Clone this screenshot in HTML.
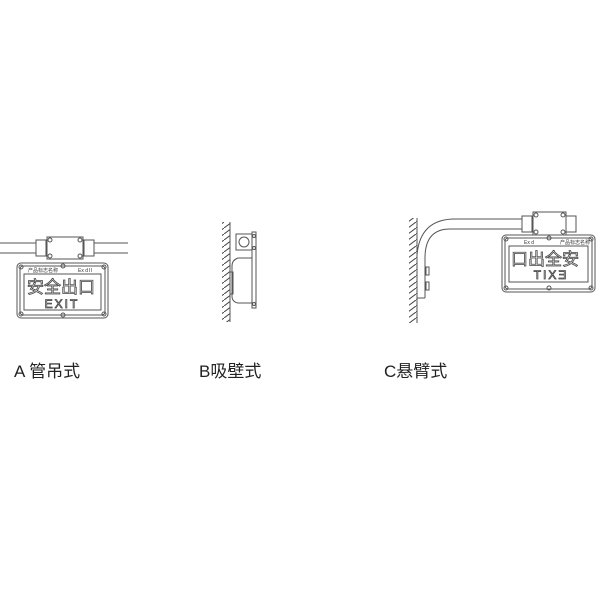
<!DOCTYPE html>
<html><head><meta charset="utf-8"><style>
html,body{margin:0;padding:0;background:#fff;width:600px;height:600px;overflow:hidden}
svg{display:block}
text{font-family:"Liberation Sans","Noto Sans CJK SC",sans-serif}
</style></head><body>
<svg width="600" height="600" viewBox="0 0 600 600" xmlns="http://www.w3.org/2000/svg">
<defs>
<pattern id="h" width="8" height="6" patternUnits="userSpaceOnUse">
<line x1="0" y1="6" x2="8" y2="0" stroke="#444" stroke-width="1"/>
</pattern>
</defs>
<g fill="none" stroke="#555" stroke-width="1">
<!-- A -->
<line x1="0" y1="243" x2="128" y2="243"/>
<line x1="0" y1="253" x2="128" y2="253"/>
<rect x="36" y="240" width="10" height="16" fill="#fff"/>
<rect x="84" y="240" width="10" height="16" fill="#fff"/>
<rect x="47" y="237" width="36" height="22" fill="#fff"/>
<circle cx="50" cy="240" r="2"/><circle cx="80" cy="240" r="2"/><circle cx="50" cy="256" r="2"/><circle cx="80" cy="256" r="2"/>
<rect x="17" y="263" width="91" height="55" rx="4" fill="#fff"/>
<rect x="20" y="266" width="85" height="49" rx="3"/>
<rect x="24" y="274" width="77" height="36"/>
<circle cx="21" cy="267" r="2"/><circle cx="104" cy="267" r="2"/><circle cx="21" cy="314" r="2"/><circle cx="104" cy="314" r="2"/><circle cx="63" cy="266" r="2"/><circle cx="63" cy="315" r="2"/>
<!-- B -->
<rect x="222" y="222" width="8" height="100" fill="url(#h)" stroke="none"/>
<line x1="230" y1="222" x2="230" y2="322"/>
<rect x="236" y="234" width="16" height="16"/>
<circle cx="244" cy="242" r="5"/>
<rect x="252" y="232" width="4" height="76"/>
<circle cx="254" cy="236" r="1.5"/><circle cx="254" cy="248" r="1.5"/><circle cx="254" cy="304" r="1.5"/>
<path d="M252 258 H238 Q232 260 232 266 V296 Q232 302 238 303 H252"/>
<rect x="230" y="272" width="3" height="22"/>
<!-- C -->
<rect x="409" y="218" width="8" height="105" fill="url(#h)" stroke="none"/>
<line x1="417" y1="218" x2="417" y2="323"/>
<path d="M417 255 Q420 219 455 219 H528"/>
<path d="M425 298 V258 Q425 229 450 229 H528"/>
<line x1="417" y1="298" x2="425" y2="298"/>
<rect x="426" y="267" width="3" height="8"/><rect x="426" y="282" width="3" height="8"/>
<rect x="522" y="216" width="10" height="16" fill="#fff"/>
<rect x="566" y="216" width="10" height="16" fill="#fff"/>
<rect x="533" y="212" width="33" height="23" fill="#fff"/>
<circle cx="536" cy="215" r="2"/><circle cx="563" cy="215" r="2"/><circle cx="536" cy="232" r="2"/><circle cx="563" cy="232" r="2"/>
<rect x="502" y="235" width="93" height="57" rx="4" fill="#fff"/>
<rect x="505" y="238" width="87" height="51" rx="3"/>
<rect x="509" y="246" width="79" height="36"/>
<circle cx="506" cy="239" r="2"/><circle cx="591" cy="239" r="2"/><circle cx="506" cy="288" r="2"/><circle cx="591" cy="288" r="2"/><circle cx="549" cy="238" r="2"/><circle cx="549" cy="288" r="2"/>
</g>
<g fill="#333">
<text x="28" y="272" font-size="5">产品标志名称</text>
<text x="78" y="272" font-size="5">Ex dⅡ</text>
<text x="27" y="293" font-size="17" fill="#fff" stroke="#444" stroke-width="0.8">安全出口</text>
<text x="62" y="308" font-size="12" text-anchor="middle" fill="#fff" stroke="#444" stroke-width="0.8" letter-spacing="2">EXIT</text>
<text x="524" y="244" font-size="5">Ex d</text>
<text x="560" y="244" font-size="5">产品标志名称</text>
<text x="511" y="265" font-size="17" fill="#fff" stroke="#444" stroke-width="0.8">口出全安</text>
<g transform="translate(549,279) scale(-1,1)"><text x="0" y="0" font-size="12" text-anchor="middle" fill="#fff" stroke="#444" stroke-width="0.8" letter-spacing="2">EXIT</text></g>
</g>
<g fill="#222" font-size="17">
<text x="14" y="377">A 管吊式</text>
<text x="199" y="377">B吸壁式</text>
<text x="384" y="377">C悬臂式</text>
</g>
</svg>
</body></html>
